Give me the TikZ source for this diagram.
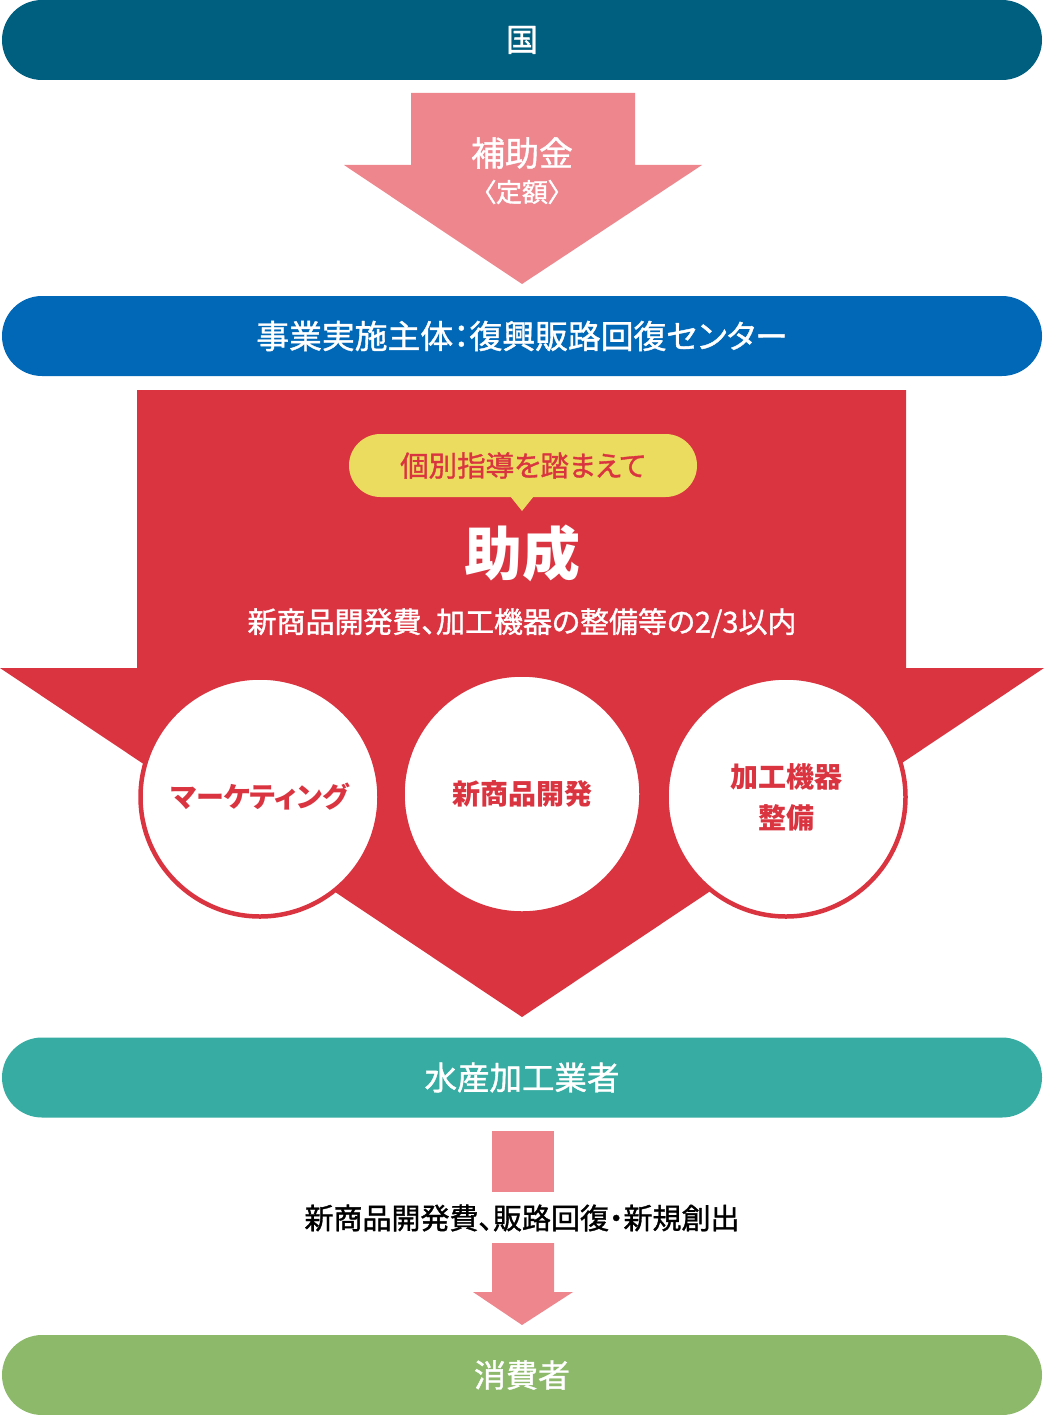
\documentclass[tikz,border=0pt]{standalone}
\usepackage{fontspec}
\setmainfont{Noto Sans CJK JP}
\newfontfamily\medfont[FakeBold=1.2, RawFeature=+palt]{Noto Sans CJK JP}
\newfontfamily\boldfont[RawFeature=+palt]{Noto Sans CJK JP}
\usepackage{tikz}
\usetikzlibrary{positioning}

\definecolor{kunicol}{RGB}{0,94,126}
\definecolor{centercol}{RGB}{0,104,183}
\definecolor{pinkcol}{RGB}{238,134,142}
\definecolor{redcol}{RGB}{218,52,64}
\definecolor{yellowcol}{RGB}{235,220,95}
\definecolor{tealcol}{RGB}{54,172,162}
\definecolor{greencol}{RGB}{141,185,107}

\tikzset{
	bar/.style={minimum width=1040pt, minimum height=80pt, rounded corners=40pt,
		inner sep=0pt, text=white, font=\medfont\fontsize{32}{34}\selectfont},
	circ/.style={circle, draw=redcol, line width=4.5pt, fill=white, minimum size=239pt,
		inner sep=0pt, text=redcol, align=center, font=\boldfont\bfseries\fontsize{28}{41}\selectfont},
	wtext/.style={text=white, inner sep=0pt}
}

\begin{document}
\begin{tikzpicture}[x=1pt, y=-1pt]
	\useasboundingbox (0,0) rectangle (1044,1415);

	\node[bar, fill=kunicol](KUNI) at (522,40){国};

	% subsidy arrow
	\fill[pinkcol] (411,93) -- (635,93) -- (635,165) -- (702,165) -- (522,284)
		-- (344,165) -- (411,165) -- cycle;
	\node[wtext, font=\medfont\fontsize{34}{36}\selectfont](HOJO) at (522,153){補助金};
	\node[wtext, font=\medfont\fontsize{26}{28}\selectfont](TEIGAKU) at (522,192){〈定額〉};

	\node[bar, fill=centercol, font=\medfont\fontsize{32.8}{34}\selectfont](CENTER) at (522,336){事業実施主体：復興販路回復センター};

	% grant arrow
	\fill[redcol] (137,390) -- (906,390) -- (906,668) -- (1044,668) -- (522,1017)
		-- (0,668) -- (137,668) -- cycle;

	\node[fill=yellowcol, minimum width=348pt, minimum height=63pt, rounded corners=31.5pt,
		text=redcol, font=\medfont\fontsize{28.5}{30}\selectfont](SHIDO) at (523,465.5){個別指導を踏まえて};
	\fill[yellowcol] (510,496) -- (534,496) -- (522,511) -- cycle;

	\node[wtext, font=\boldfont\bfseries\fontsize{58}{60}\selectfont](JOSEI) at (522,553){助成};
	\node[wtext, font=\medfont\fontsize{29}{31}\selectfont](NAIYO) at (522,623){新商品開発費、加工機器の整備等の2/3以内};

	\node[circ](MKT) at (260,797){マーケティング};
	\node[circ](SHIN) at (522,794){新商品開発};
	\node[circ](KIKI) at (786,797){加工機器\\整備};

	\node[bar, fill=tealcol, font=\medfont\fontsize{32.5}{34}\selectfont](SUISAN) at (522,1077.5){水産加工業者};

	% small arrow
	\fill[pinkcol] (492,1131) rectangle (554,1192);
	\node[font=\medfont\fontsize{29}{31}\selectfont, inner sep=0pt](KOKA) at (522,1218){新商品開発費、販路回復・新規創出};
	\fill[pinkcol] (492,1243) -- (554,1243) -- (554,1292) -- (573,1292) -- (522,1325)
		-- (473,1292) -- (492,1292) -- cycle;

	\node[bar, fill=greencol](SHOHI) at (522,1375){消費者};
\end{tikzpicture}
\end{document}
